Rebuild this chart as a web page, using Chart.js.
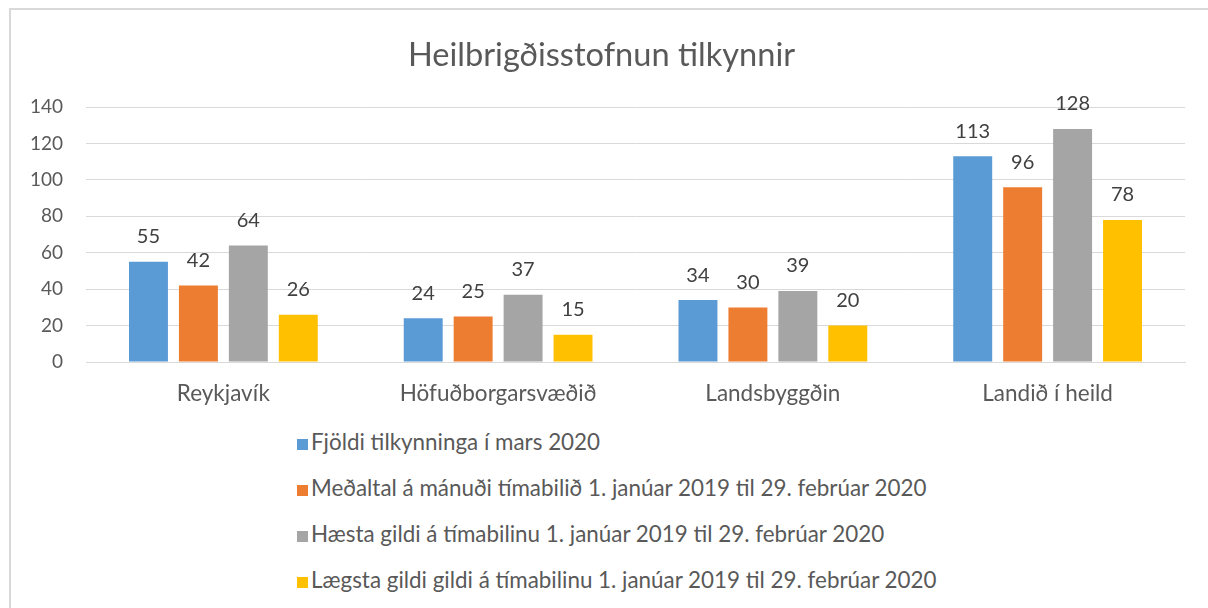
<!DOCTYPE html>
<html>
<head>
<meta charset="utf-8">
<script src="https://cdn.jsdelivr.net/npm/chart.js@4"></script>
<style>
  html, body { margin: 0; padding: 0; background: #fff; }
  #wrap { position: relative; width: 1208px; height: 608px; overflow: hidden; }
  #frame { position: absolute; left: 9px; top: 8px; width: 1300px; height: 700px;
           border-top: 2px solid #d9d9d9; border-left: 2px solid #d9d9d9; box-sizing: border-box; }
  #c { position: absolute; left: 0; top: 0; }
  #legend { position: absolute; left: 297px; top: 429px; font-family: Lato, sans-serif;
            font-size: 22.4px; color: #595959; }
  #legend div { height: 46px; line-height: 26px; white-space: nowrap; }
  #legend span.box { display: inline-block; width: 11px; height: 11px; margin-right: 3px; }
</style>
</head>
<body>
<div id="wrap">
  <div id="frame"></div>
  <canvas id="c" width="1208" height="420"></canvas>
  <div id="legend"></div>
</div>
<script>
// datos del gráfico
const categorias = ['Reykjavík', 'Höfuðborgarsvæðið', 'Landsbyggðin', 'Landið í heild'];
const fjoldiMars = [55, 24, 34, 113];
const medaltal = [42, 25, 30, 96];
const haestaGildi = [64, 37, 39, 128];
const laegstaGildi = [26, 15, 20, 78];
const nofnRada = [
  'Fjöldi tilkynninga í mars 2020',
  'Meðaltal á mánuði tímabilið 1. janúar 2019 til 29. febrúar 2020',
  'Hæsta gildi á tímabilinu 1. janúar 2019 til 29. febrúar 2020',
  'Lægsta gildi gildi á tímabilinu 1. janúar 2019 til 29. febrúar 2020'
];
const litir = ['#5B9BD5', '#ED7D31', '#A5A5A5', '#FFC000'];

const FONT = 'Lato, sans-serif';

// plugin simple para los valores sobre las barras
const valoresPlugin = {
  id: 'valores',
  afterDatasetsDraw(chart) {
    const ctx = chart.ctx;
    ctx.save();
    ctx.font = '20px ' + FONT;
    ctx.fillStyle = '#404040';
    ctx.textAlign = 'center';
    ctx.textBaseline = 'middle';
    chart.data.datasets.forEach((ds, i) => {
      chart.getDatasetMeta(i).data.forEach((bar, j) => {
        ctx.fillText(ds.data[j], bar.x, bar.y - 25);
      });
    });
    ctx.restore();
  }
};

const series = [fjoldiMars, medaltal, haestaGildi, laegstaGildi];

const chart = new Chart(document.getElementById('c').getContext('2d'), {
  type: 'bar',
  data: {
    labels: categorias,
    datasets: series.map((d, i) => ({
      label: nofnRada[i],
      data: d,
      backgroundColor: litir[i],
      categoryPercentage: 0.727,
      barPercentage: 0.78
    }))
  },
  options: {
    responsive: false,
    animation: false,
    // padding izq. 18 + eje y 68 = 86 (centra el título como en el original)
    layout: { padding: { left: 18, right: 23, top: 0, bottom: 0 } },
    plugins: {
      legend: { display: false },
      tooltip: { enabled: false },
      title: {
        display: true,
        text: 'Heilbrigðisstofnun tilkynnir',
        color: '#595959',
        font: { family: FONT, size: 32.6, weight: 'normal' },
        padding: { top: 36, bottom: 32 }
      }
    },
    scales: {
      x: {
        grid: { display: false, drawTicks: false },
        border: { display: true, color: '#d9d9d9' },
        ticks: { color: '#595959', font: { family: FONT, size: 22.5 }, padding: 18 },
        afterFit(scale) { scale.height = 58; }
      },
      y: {
        min: 0, max: 140,
        grid: { color: '#d9d9d9', drawTicks: false },
        border: { display: false },
        ticks: { stepSize: 20, color: '#595959', font: { family: FONT, size: 19 }, padding: 23 },
        afterFit(scale) { scale.width = 68; }
      }
    }
  },
  plugins: [valoresPlugin]
});

// leyenda en html (lista vertical)
const leg = document.getElementById('legend');
chart.data.datasets.forEach(ds => {
  const row = document.createElement('div');
  row.innerHTML = '<span class="box" style="background:' + ds.backgroundColor + '"></span>' + ds.label;
  leg.appendChild(row);
});
</script>
</body>
</html>
